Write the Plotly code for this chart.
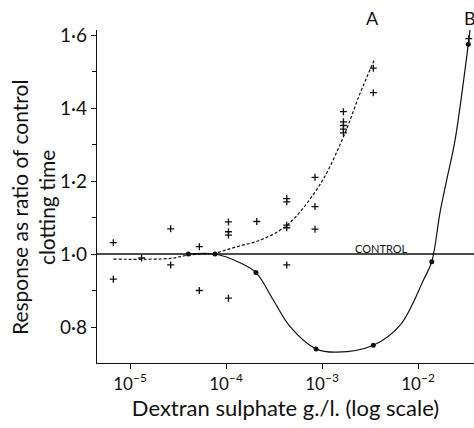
import plotly.graph_objects as go

# Scatter observations (crosses)
obs_x = [6.7e-6, 6.7e-6, 1.32e-5, 2.65e-5, 2.65e-5, 5.27e-5, 5.27e-5,
         1.06e-4, 1.06e-4, 1.06e-4, 1.06e-4, 2.09e-4,
         4.29e-4, 4.29e-4, 4.29e-4, 4.29e-4, 4.29e-4,
         8.45e-4, 8.45e-4, 8.45e-4,
         1.67e-3, 1.67e-3, 1.67e-3, 1.67e-3, 1.67e-3,
         3.42e-3, 3.42e-3, 3.38e-2]
obs_y = [1.031, 0.931, 0.989, 1.069, 0.970, 1.020, 0.900,
         1.088, 1.061, 1.052, 0.879, 1.089,
         1.152, 1.143, 1.079, 1.072, 0.970,
         1.210, 1.130, 1.068,
         1.390, 1.362, 1.352, 1.342, 1.332,
         1.509, 1.442, 1.590]

# Points on curve B (dots)
dot_x = [4.05e-5, 7.67e-5, 2.05e-4, 8.66e-4, 3.42e-3, 1.39e-2, 3.34e-2]
dot_y = [1.0, 1.0, 0.949, 0.740, 0.750, 0.979, 1.575]

# Curve A (dashed)
curveA_x = [6.7e-6, 2.65e-5, 4.05e-5, 7.67e-5, 1.29e-4, 2.26e-4, 4.32e-4,
            9.5e-4, 1.67e-3, 2.49e-3, 3.56e-3]
curveA_y = [0.986, 0.988, 0.997, 1.003, 1.020, 1.038, 1.079,
            1.190, 1.321, 1.440, 1.536]

# Curve B (solid)
curveB_x = [4.05e-5, 7.67e-5, 1.40e-4, 2.05e-4, 3.11e-4, 4.65e-4, 8.66e-4,
            1.42e-3, 3.42e-3, 6.5e-3, 1.14e-2, 1.39e-2, 1.69e-2,
            1.99e-2, 2.43e-2, 3.34e-2, 3.48e-2]
curveB_y = [1.0, 1.0, 0.976, 0.949, 0.874, 0.801, 0.740,
            0.731, 0.750, 0.805, 0.929, 0.979, 1.112,
            1.203, 1.312, 1.575, 1.614]

y_ticks = [0.8, 1.0, 1.2, 1.4, 1.6]
y_ticktext = ["0·8", "1·0", "1·2", "1·4", "1·6"]
x_ticks = [1e-5, 1e-4, 1e-3, 1e-2]
x_ticktext = ["10<sup>−5</sup>", "10<sup>−4</sup>", "10<sup>−3</sup>", "10<sup>−2</sup>"]

FONT = "Lato"
INK = "#111111"

fig = go.Figure()
fig.add_trace(go.Scatter(x=curveA_x, y=curveA_y, mode="lines",
                         line=dict(color=INK, width=1.2, dash="3px,2px", shape="spline", smoothing=1.0),
                         hoverinfo="skip", showlegend=False))
fig.add_trace(go.Scatter(x=curveB_x, y=curveB_y, mode="lines",
                         line=dict(color=INK, width=1.2, shape="spline", smoothing=1.0),
                         hoverinfo="skip", showlegend=False))
fig.add_trace(go.Scatter(x=obs_x, y=obs_y, mode="markers",
                         marker=dict(symbol="cross-thin", size=5, line=dict(color=INK, width=1.3)),
                         showlegend=False))
fig.add_trace(go.Scatter(x=dot_x, y=dot_y, mode="markers",
                         marker=dict(symbol="circle", size=5, color=INK),
                         showlegend=False))

# Control line
fig.add_shape(type="line", xref="paper", x0=0, x1=1, yref="y", y0=1.0, y1=1.0,
              line=dict(color=INK, width=1.3))

fig.update_layout(
    width=474, height=428,
    margin=dict(l=97, r=0, t=30, b=65),
    paper_bgcolor="white", plot_bgcolor="white",
    font=dict(family=FONT, color=INK),
    xaxis=dict(type="log", range=[-5.344, -1.417], tickvals=x_ticks, ticktext=x_ticktext,
               ticks="outside", ticklen=5, tickcolor=INK, showline=True, linecolor=INK,
               linewidth=1.3, showgrid=False, zeroline=False,
               tickfont=dict(size=17, family=FONT, color=INK),
               title=dict(text="Dextran sulphate g./l. (log scale)",
                          font=dict(size=22, family=FONT, color=INK), standoff=5)),
    yaxis=dict(range=[0.7014, 1.6137], tickvals=y_ticks, ticktext=y_ticktext,
               ticks="outside", ticklen=5, tickcolor=INK, showline=True, linecolor=INK,
               linewidth=1.3, showgrid=False, zeroline=False,
               tickfont=dict(size=19, family=FONT, color=INK),
               minor=dict(tickvals=[0.9, 1.1, 1.3, 1.5], ticks="outside", ticklen=4, tickcolor=INK)),
    annotations=[
        dict(text="Response as ratio of control<br>clotting time", textangle=-90,
             xref="paper", yref="paper", x=-0.17, y=0.468, xanchor="center", yanchor="middle",
             showarrow=False, font=dict(size=21, family=FONT, color=INK), align="center"),
        dict(text="CONTROL", xref="x", yref="y", x=-2.385, y=1.0, yanchor="bottom",
             showarrow=False, font=dict(size=11, family=FONT, color=INK), yshift=-3),
        dict(text="A", xref="x", yref="paper", x=-2.47, y=1.0, yanchor="middle", yshift=12,
             showarrow=False, font=dict(size=18, family=FONT, color=INK)),
        dict(text="B", xref="x", yref="paper", x=-1.46, y=1.0, yanchor="middle", yshift=12,
             showarrow=False, font=dict(size=18, family=FONT, color=INK)),
    ],
)

fig.write_html("out.html", config={"displayModeBar": False},
               post_script="document.body.style.margin='0';")
